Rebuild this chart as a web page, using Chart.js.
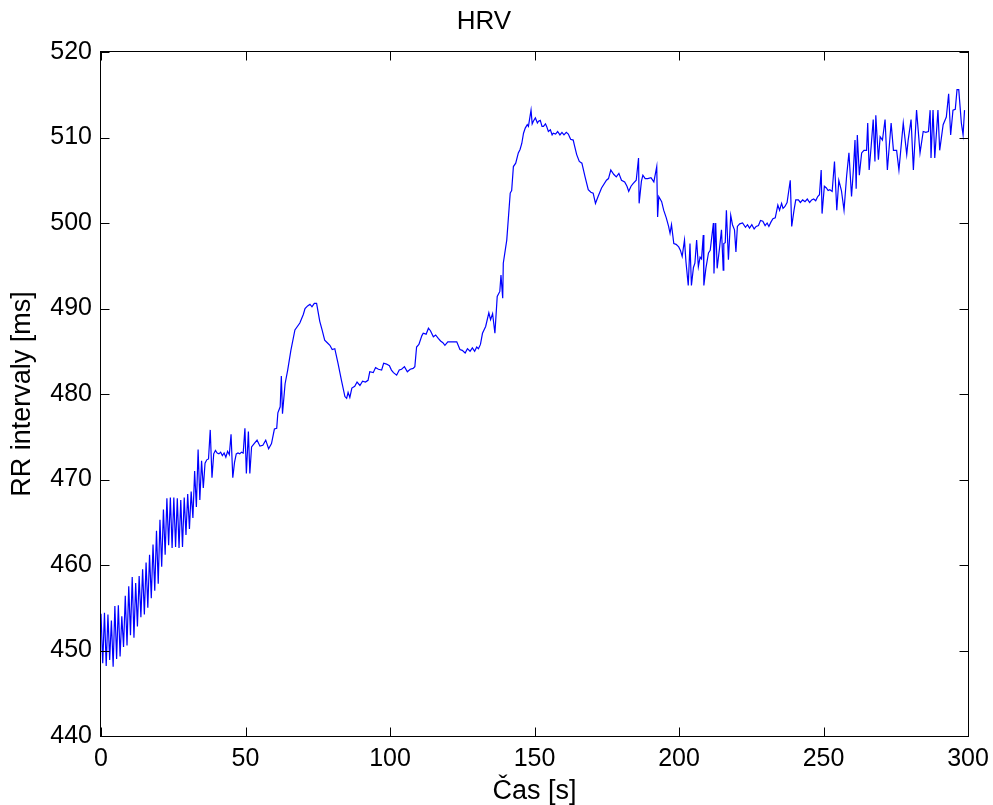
<!DOCTYPE html>
<html>
<head>
<meta charset="utf-8">
<script src="https://cdn.jsdelivr.net/npm/chart.js@4.4.1/dist/chart.umd.min.js"></script>
<style>
  html, body { margin: 0; padding: 0; background: #fff; }
  #wrap { width: 993px; height: 805px; position: relative; }
</style>
</head>
<body>
<div id="wrap"><canvas id="canvas"></canvas></div>
<script>
// HRV - RR intervaly
const xTickValues = [0, 50, 100, 150, 200, 250, 300];
const yTickValues = [440, 450, 460, 470, 480, 490, 500, 510, 520];

// 0 - 52 s
const timesA = [0.0, 0.6, 1.2, 1.8, 2.4, 3.0, 3.6, 4.2, 4.8, 5.4, 6.0, 6.6, 7.2, 7.8, 8.4, 9.0, 9.6, 10.2, 10.8, 11.4,
  12.0, 12.6, 13.2, 13.8, 14.4, 15.0, 15.6, 16.2, 16.8, 17.4, 18.0, 18.6, 19.2, 19.8, 20.4, 21.0, 21.6, 22.2, 22.8, 23.4,
  24.0, 24.6, 25.2, 25.8, 26.4, 27.0, 27.6, 28.2, 28.8, 29.4, 30.0, 30.6, 31.2, 31.8, 32.4, 33.0, 33.6, 34.2, 34.8, 35.4,
  36.0, 36.6, 37.2, 37.8, 38.4, 39.0, 39.6, 40.2, 40.8, 41.4, 42.0, 42.6, 43.2, 43.8, 44.4, 45.0, 45.6, 46.2, 46.8, 47.4,
  48.0, 48.6, 49.2, 49.8, 50.3, 51.0, 51.5];
const rrA = [454.3, 448.5, 454.4, 448.2, 454.2, 448.9, 453.5, 448.1, 455.2, 449.0, 455.3, 449.3, 454.0, 450.4, 456.4, 450.6, 457.5, 451.8, 458.6, 451.5,
  457.9, 452.8, 458.7, 453.9, 459.5, 454.2, 460.3, 455.0, 461.2, 456.1, 462.4, 457.0, 464.0, 457.8, 465.3, 459.8, 466.5, 461.2, 467.8, 462.3,
  467.9, 462.0, 467.9, 462.1, 467.8, 462.0, 467.6, 462.1, 467.9, 463.5, 468.3, 464.2, 468.6, 465.5, 471.0, 466.8, 473.5, 467.6, 472.2, 469.0,
  471.9, 472.3, 472.4, 475.8, 470.2, 473.0, 473.4, 473.1, 473.0, 473.2, 472.8, 473.1, 472.6, 473.3, 472.9, 475.3, 470.2, 472.0, 473.0, 473.1,
  473.0, 473.2, 473.1, 476.0, 470.7, 475.6, 470.7];

// 52 - 150 s
const timesB = [52.1, 53.0, 54.0, 55.0, 56.0, 57.0, 58.0, 59.0, 60.0, 60.8, 61.2, 62.0, 62.4, 62.8, 63.7, 64.6, 65.7, 67.1, 68.8, 70.0,
  70.6, 71.5, 72.3, 73.0, 73.8, 74.6, 75.7, 76.5, 77.4, 78.3, 79.2, 80.0, 80.9, 82.0, 83.2, 84.4, 85.0, 85.5, 86.1, 86.8,
  87.8, 88.6, 89.6, 90.5, 91.5, 92.4, 93.0, 94.2, 95.0, 96.0, 97.1, 97.8, 98.8, 99.8, 100.5, 101.2, 102.3, 103.2, 104.0, 105.0,
  106.0, 107.0, 108.0, 108.6, 109.2, 110.0, 111.0, 111.5, 112.5, 113.3, 114.0, 115.0, 115.8, 116.7, 117.5, 118.3, 119.0, 120.0, 121.5, 123.1,
  124.2, 125.0, 126.0, 126.8, 127.7, 128.5, 129.3, 130.0, 130.6, 131.3, 132.0, 133.1, 134.2, 134.8, 135.5, 136.3, 137.1, 138.0, 138.4, 139.0,
  139.2, 140.4, 141.6, 142.1, 142.7, 143.5, 144.4, 145.0, 145.6, 146.2, 146.8, 147.5, 147.9, 148.8, 149.2, 149.6];
const rrB = [473.8, 474.2, 474.6, 473.9, 474.0, 474.6, 473.6, 474.2, 475.9, 476.0, 477.8, 478.5, 482.1, 477.7, 481.2, 482.8, 485.1, 487.5, 488.3, 489.3,
  490.0, 490.3, 490.5, 490.2, 490.6, 490.6, 488.5, 487.5, 486.3, 486.0, 485.7, 485.2, 485.3, 483.6, 481.6, 479.7, 479.5, 480.2, 479.6, 480.7,
  480.9, 481.4, 481.0, 481.5, 481.4, 481.6, 482.6, 482.5, 483.1, 482.9, 482.8, 483.6, 483.5, 483.3, 482.8, 482.5, 482.2, 482.8, 482.9, 483.2,
  482.6, 482.9, 483.0, 483.2, 485.5, 485.8, 486.8, 487.1, 487.0, 487.7, 487.4, 486.7, 486.9, 486.5, 486.2, 486.0, 485.7, 486.1, 486.1, 486.1,
  485.2, 485.1, 484.8, 485.3, 485.0, 485.4, 485.0, 485.5, 485.3, 485.8, 487.1, 487.9, 489.5, 488.7, 489.4, 487.1, 491.4, 492.0, 493.9, 491.2,
  495.3, 498.0, 503.5, 503.8, 506.6, 507.0, 508.2, 508.6, 509.3, 510.5, 511.1, 511.5, 511.3, 513.2, 511.6, 511.9];

// 150 - 203 s
const timesC = [150.3, 151.0, 151.4, 152.0, 152.6, 153.1, 153.8, 154.2, 154.8, 155.5, 156.1, 156.5, 157.3, 158.0, 158.8, 159.5, 160.2, 161.0, 161.7, 162.5,
  163.4, 163.8, 164.6, 165.5, 166.4, 167.5, 168.6, 169.5, 170.3, 171.1, 172.0, 173.2, 174.9, 175.6, 176.4, 177.4, 178.3, 179.2, 180.1, 181.2,
  182.0, 182.6, 183.4, 184.1, 185.2, 186.0, 186.2, 187.0, 187.5, 188.3, 189.2, 190.3, 191.3, 192.3, 192.6, 193.0, 194.0, 194.7, 195.6, 196.4,
  196.9, 197.4, 198.2, 199.0, 199.9, 200.5, 201.1, 201.9, 202.4];
const rrC = [512.3, 511.7, 511.9, 512.0, 511.3, 511.3, 511.6, 511.3, 510.7, 510.9, 510.3, 510.5, 510.4, 510.7, 510.3, 510.6, 510.3, 510.6, 510.4, 509.8,
  509.7, 509.1, 508.0, 507.2, 507.0, 505.4, 503.9, 503.6, 503.5, 502.3, 503.1, 504.1, 505.0, 505.2, 506.2, 505.7, 505.4, 505.8, 505.0, 504.8,
  504.3, 503.7, 504.3, 504.6, 505.0, 507.6, 502.3, 504.9, 505.6, 505.2, 505.2, 505.3, 504.8, 506.6, 500.7, 503.1, 502.5, 501.5, 500.6, 499.6,
  498.8, 499.8, 497.6, 497.5, 497.2, 496.8, 496.1, 498.0, 495.5];

// 203 - 300 s
const timesD = [203.2, 203.8, 204.3, 205.0, 205.5, 206.1, 206.7, 207.3, 207.8, 208.4, 208.6, 209.3, 210.2, 210.8, 211.9, 212.1, 212.7, 213.2, 214.0, 214.7,
  215.3, 215.5, 216.0, 216.4, 217.1, 217.9, 218.5, 219.2, 219.7, 220.2, 221.0, 222.0, 223.0, 223.7, 224.4, 225.2, 226.0, 226.7, 227.5, 228.2,
  229.0, 229.8, 230.5, 231.1, 231.8, 232.5, 233.3, 234.2, 234.8, 235.5, 236.0, 236.6, 237.4, 238.5, 239.0, 239.8, 240.4, 241.3, 242.0, 242.8,
  243.6, 244.4, 245.2, 245.9, 246.6, 247.3, 248.0, 248.6, 249.2, 249.5, 250.3, 251.0, 251.6, 252.2, 253.0, 253.8, 254.6, 255.3, 256.2, 257.1,
  258.0, 258.8, 259.7, 260.3, 260.9, 261.3, 261.7, 262.4, 263.2, 264.0, 264.9, 265.3, 265.8, 266.5, 267.2, 267.8, 268.1, 269.0, 269.6, 270.4,
  271.3, 272.1, 273.4, 274.2, 275.3, 276.1, 277.6, 278.8, 279.3, 280.3, 281.1, 282.2, 283.4, 284.5, 285.4, 286.3, 286.9, 287.2, 287.9, 288.5,
  289.6, 290.2, 291.4, 292.5, 293.3, 294.0, 294.8, 295.6, 296.2, 296.8, 297.7, 298.3, 298.8];
const rrD = [492.7, 497.6, 492.7, 494.8, 495.3, 498.0, 494.9, 496.0, 495.8, 498.6, 492.7, 494.7, 496.5, 496.8, 500.0, 494.1, 500.0, 494.7, 497.0, 499.2,
  494.5, 497.6, 497.7, 501.5, 495.7, 500.9, 499.8, 499.2, 496.6, 499.6, 499.9, 500.0, 499.5, 499.8, 499.4, 499.8, 499.3, 499.6, 499.7, 500.3,
  500.2, 499.7, 500.0, 499.6, 500.1, 500.5, 500.6, 502.1, 501.5, 502.3, 501.7, 501.9, 502.4, 505.0, 499.6, 501.5, 502.7, 502.7, 502.4, 502.7,
  502.5, 502.8, 502.4, 502.7, 502.8, 502.6, 503.1, 503.3, 506.2, 501.1, 504.3, 504.1, 503.8, 503.9, 503.7, 507.2, 501.5, 505.0, 503.8, 501.5,
  505.5, 508.2, 503.1, 506.0, 509.7, 504.0, 510.3, 505.6, 508.2, 508.5, 508.5, 511.7, 506.2, 509.0, 512.1, 507.2, 512.6, 507.4, 510.1, 509.7,
  512.1, 506.2, 511.7, 508.5, 508.5, 506.2, 511.7, 508.0, 509.7, 512.1, 506.2, 513.2, 508.2, 510.7, 510.6, 510.7, 513.2, 507.6, 513.2, 507.6,
  513.2, 508.5, 511.5, 512.4, 515.1, 510.3, 513.2, 513.3, 515.6, 515.6, 511.7, 510.3, 513.2];

const casy = timesA.concat(timesB, timesC, timesD);
const rrIntervaly = rrA.concat(rrB, rrC, rrD);

const fontFamily = "Arial, 'Liberation Sans', Helvetica, sans-serif";

// rámeček + ticky dovnitř jako v Matlabu
const matlabAxes = {
  id: 'matlabAxes',
  afterDraw(chart) {
    const ctx = chart.ctx;
    const a = chart.chartArea;
    const x = chart.scales.x;
    const y = chart.scales.y;
    const tl = 9;
    ctx.save();
    ctx.strokeStyle = '#000';
    ctx.lineWidth = 1;
    ctx.beginPath();
    const L = Math.round(a.left) - 0.5, R = Math.round(a.right) + 0.5;
    const T = Math.round(a.top) - 0.5, B = Math.round(a.bottom) + 0.5;
    xTickValues.forEach(v => {
      const px = Math.round(x.getPixelForValue(v)) + 0.5;
      ctx.moveTo(px, B); ctx.lineTo(px, B - tl);
      ctx.moveTo(px, T); ctx.lineTo(px, T + tl);
    });
    yTickValues.forEach(v => {
      const py = Math.round(y.getPixelForValue(v)) + 0.5;
      ctx.moveTo(L, py); ctx.lineTo(L + tl, py);
      ctx.moveTo(R, py); ctx.lineTo(R - tl, py);
    });
    ctx.stroke();
    ctx.strokeRect(L, T, R - L, B - T);
    ctx.restore();
  }
};

const points = casy.map((t, i) => ({x: t, y: rrIntervaly[i]}));

new Chart(document.getElementById('canvas'), {
  type: 'line',
  data: {
    datasets: [{
      label: 'RR',
      data: points,
      borderColor: '#0000ff',
      borderWidth: 1.2,
      pointRadius: 0,
      tension: 0,
      fill: false
    }]
  },
  options: {
    responsive: true,
    maintainAspectRatio: false,
    animation: false,
    layout: { padding: { left: 0, right: 25, top: 0, bottom: 0 } },
    plugins: {
      legend: { display: false },
      tooltip: { enabled: false },
      title: {
        display: true,
        text: 'HRV',
        color: '#000',
        font: { family: fontFamily, size: 26, weight: 'normal', lineHeight: 1 },
        padding: { top: 9, bottom: 17 }
      }
    },
    scales: {
      x: {
        type: 'linear',
        min: 0,
        max: 300,
        afterFit: s => { s.height = 69; s.paddingLeft = 0; s.paddingRight = 0; },
        afterBuildTicks: s => { s.ticks = xTickValues.map(v => ({value: v})); },
        grid: { display: false, drawTicks: false },
        border: { display: false },
        ticks: { color: '#000', padding: 8, maxRotation: 0, font: { family: fontFamily, size: 25 } },
        title: {
          display: true,
          text: 'Čas [s]',
          color: '#000',
          font: { family: fontFamily, size: 27, lineHeight: 1 },
          padding: { top: 0, bottom: 0 }
        }
      },
      y: {
        min: 440,
        max: 520,
        afterFit: s => { s.width = 101; s.paddingTop = 0; s.paddingBottom = 0; },
        afterBuildTicks: s => { s.ticks = yTickValues.map(v => ({value: v})); },
        grid: { display: false, drawTicks: false },
        border: { display: false },
        ticks: { color: '#000', padding: 9, font: { family: fontFamily, size: 25 } },
        title: {
          display: true,
          text: 'RR intervaly [ms]',
          color: '#000',
          font: { family: fontFamily, size: 27, lineHeight: 1 },
          padding: { top: 9, bottom: 0 }
        }
      }
    }
  },
  plugins: [matlabAxes]
});
</script>
</body>
</html>
